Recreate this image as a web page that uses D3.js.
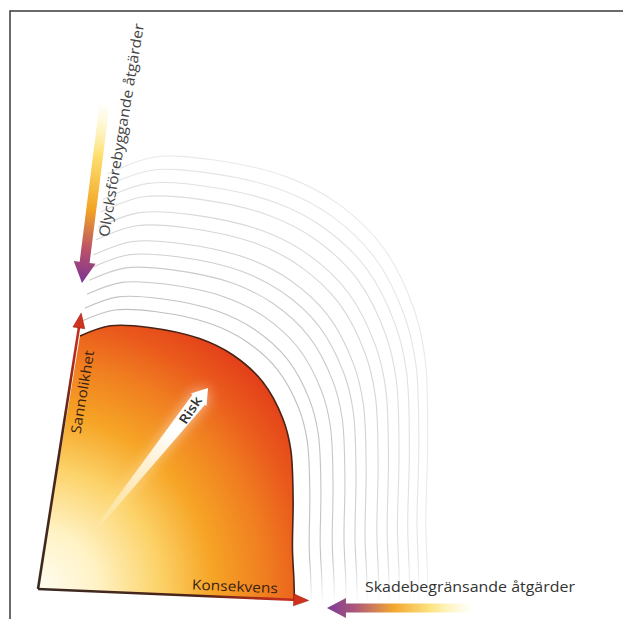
<!DOCTYPE html>
<html>
<head>
<meta charset="utf-8">
<script src="https://cdn.jsdelivr.net/npm/d3@7"></script>
<style>
html, body { margin: 0; padding: 0; background: #fff; }
svg { display: block; }
text { font-family: "Open Sans", "Noto Sans", sans-serif; }
</style>
</head>
<body>
<svg width="623" height="619"></svg>
<script>
// edge of the risk field, axis units (u = konsekvens, v = sannolikhet)
var riskEdge = [[0, 1], [0.11, 1.045], [0.26, 1.045], [0.46, 1.01], [0.6, 0.95], [0.73, 0.85],
	[0.83, 0.71], [0.88, 0.59], [0.92, 0.4], [0.95, 0.2], [0.975, 0.08], [0.99, 0]];

// how far each of the grey rings reaches, relative to the field
var ringU = [1.066, 1.109, 1.156, 1.202, 1.245, 1.284, 1.33, 1.37, 1.41, 1.45, 1.486, 1.52];
var ringV = [1.06, 1.11, 1.165, 1.22, 1.27, 1.32, 1.38, 1.43, 1.49, 1.54, 1.59, 1.64];

var axisLabels = ["Sannolikhet", "Konsekvens"];
var riskLabel = "Risk";
var measureLabels = ["Olycksförebyggande åtgärder", "Skadebegränsande åtgärder"];

var svg = d3.select("svg");
var defs = svg.append("defs");

// skewed axis frame
var x = d3.scaleLinear().domain([0, 1]).range([38, 297]);
var y = d3.scaleLinear().domain([0, 1]).range([589, 336]);
var lean = d3.scaleLinear().domain([0, 1]).range([0, 42]);
var sink = d3.scaleLinear().domain([0, 1]).range([0, 11]);

function P(u, v) { return [x(u) + lean(v), y(v) + sink(u)]; }

var line = d3.line()
	.x(function(d) { return P(d[0], d[1])[0]; })
	.y(function(d) { return P(d[0], d[1])[1]; })
	.curve(d3.curveCatmullRom.alpha(0.5));

function linGrad(id, a, b, stops) {
	var g = defs.append("linearGradient")
		.attr("id", id)
		.attr("gradientUnits", "userSpaceOnUse")
		.attr("x1", a[0]).attr("y1", a[1])
		.attr("x2", b[0]).attr("y2", b[1]);
	stops.forEach(function(s) {
		g.append("stop").attr("offset", s[0]).attr("stop-color", s[1]).attr("stop-opacity", s[2] === undefined ? 1 : s[2]);
	});
}

// polygon for an arrow going from tail to tip
function arrowShape(tail, tip, tailHalf, shaftHalf, headLen, headHalf) {
	var dx = tip[0] - tail[0], dy = tip[1] - tail[1];
	var len = Math.sqrt(dx * dx + dy * dy);
	var ex = dx / len, ey = dy / len;
	var nx = -ey, ny = ex;
	function at(t, w) { return [tail[0] + ex * t + nx * w, tail[1] + ey * t + ny * w]; }
	var b = len - headLen;
	return [at(0, tailHalf), at(b, shaftHalf), at(b, headHalf), tip, at(b, -headHalf), at(b, -shaftHalf), at(0, -tailHalf)];
}

// frame (only top and left edges are in the crop)
svg.append("path")
	.attr("d", "M10,619 L10,11 L623,11")
	.attr("fill", "none")
	.attr("stroke", "#3a3a3a")
	.attr("stroke-width", 1.5);

// grey rings round the field
var O = P(0, 0);
linGrad("ringFade", [0, 560], [0, 604], [[0, "#b4b4b4", 1], [1, "#b4b4b4", 0]]);

svg.append("g").selectAll("path")
	.data(ringU)
	.enter().append("path")
	.attr("d", function(su, i) {
		var sv = ringV[i];
		return line(riskEdge.map(function(p) { return [p[0] * su, p[1] * sv]; }));
	})
	.attr("fill", "none")
	.attr("stroke", "url(#ringFade)")
	.attr("stroke-width", 1.1)
	.attr("opacity", function(d, i) { return 0.85 - i * 0.05; });

// risk field
var field = defs.append("radialGradient")
	.attr("id", "fieldFill")
	.attr("gradientUnits", "userSpaceOnUse")
	.attr("cx", O[0]).attr("cy", O[1]).attr("r", 335);
[[0, "#fffdf2"], [0.18, "#fff2c4"], [0.36, "#fcd36a"], [0.52, "#f6a526"], [0.68, "#f07e20"], [0.8, "#ea5a1c"], [0.9, "#e4421a"], [1, "#de361a"]]
	.forEach(function(s) { field.append("stop").attr("offset", s[0]).attr("stop-color", s[1]); });

svg.append("path")
	.attr("d", line(riskEdge) + "L" + O[0] + "," + O[1] + "Z")
	.attr("fill", "url(#fieldFill)");

svg.append("path")
	.attr("d", line(riskEdge))
	.attr("fill", "none")
	.attr("stroke", "#4a2216")
	.attr("stroke-width", 1.6);

// axes with arrow heads
var axisTips = [P(-0.01, 1.09), P(1.045, 0)];
axisTips.forEach(function(tip, i) {
	linGrad("axisGrad" + i, O, tip, [[0, "#3a2a22"], [0.6, "#4e2318"], [0.82, "#b02a1c"], [1, "#d0321e"]]);
	var head = arrowShape(O, tip, 0, 0, 15, 6);
	svg.append("line")
		.attr("x1", O[0]).attr("y1", O[1])
		.attr("x2", head[1][0] + (tip[0] - head[1][0]) * 0.3)
		.attr("y2", head[1][1] + (tip[1] - head[1][1]) * 0.3)
		.attr("stroke", "url(#axisGrad" + i + ")")
		.attr("stroke-width", 2.6);
	svg.append("polygon")
		.attr("points", [head[2], head[3], head[4]].join(" "))
		.attr("fill", "#d0321e")
		.attr("stroke", "#8a1e12")
		.attr("stroke-width", 0.5);
});

// risk arrow with soft glow
var riskTail = P(0.181, 0.241), riskTip = P(0.524, 0.817);
var riskPoly = arrowShape(riskTail, riskTip, 1.5, 8, 15, 10);
defs.append("filter").attr("id", "glow").attr("x", "-50%").attr("y", "-50%").attr("width", "200%").attr("height", "200%")
	.append("feGaussianBlur").attr("stdDeviation", 7);
linGrad("riskFill", riskTail, riskTip, [[0, "#ffffff", 0], [0.35, "#fffbea", 0.7], [0.7, "#ffffff", 1], [1, "#ffffff", 1]]);

svg.append("polygon")
	.attr("points", riskPoly.join(" "))
	.attr("fill", "url(#riskFill)")
	.attr("opacity", 0.6)
	.attr("filter", "url(#glow)");
svg.append("polygon")
	.attr("points", riskPoly.join(" "))
	.attr("fill", "url(#riskFill)");

// measure arrows
var olyTail = P(-0.054, 1.93), olyTip = P(-0.026, 1.208);
linGrad("olyFill", olyTail, olyTip, [[0, "#fff6c0", 0], [0.3, "#fde070", 1], [0.6, "#f2a424", 1], [0.82, "#b8506a", 1], [1, "#7a3494", 1]]);
svg.append("polygon")
	.attr("points", arrowShape(olyTail, olyTip, 5, 5, 21, 11).join(" "))
	.attr("fill", "url(#olyFill)");

var skTail = P(1.688, -0.002), skTip = P(1.12, -0.026);
linGrad("skFill", skTail, skTip, [[0, "#fff6c0", 0], [0.3, "#fde480", 1], [0.55, "#f2a830", 1], [0.8, "#b05a78", 1], [1, "#7a3a98", 1]]);
svg.append("polygon")
	.attr("points", arrowShape(skTail, skTip, 4.5, 4.5, 19, 10).join(" "))
	.attr("fill", "url(#skFill)");

// labels
function label(txt, pos, angle, size, width, color, weight) {
	svg.append("text")
		.attr("transform", "translate(" + pos[0] + "," + pos[1] + ") rotate(" + angle + ")")
		.attr("text-anchor", "middle")
		.attr("dominant-baseline", "central")
		.attr("font-size", size)
		.attr("font-weight", weight || 400)
		.attr("fill", color)
		.attr("textLength", width)
		.attr("lengthAdjust", "spacingAndGlyphs")
		.text(txt);
}

var vAngle = Math.atan2(y(1) - y(0), lean(1) - lean(0)) * 180 / Math.PI;
var uAngle = Math.atan2(sink(1) - sink(0), x(1) - x(0)) * 180 / Math.PI;

label(axisLabels[0], P(0.043, 0.781), vAngle, 14, 84, "#3a2214");
label(axisLabels[1], P(0.753, 0.045), uAngle, 14, 86, "#3a2214");
label(riskLabel, P(0.469, 0.728), -56, 13, 30, "#333", 600);
label(measureLabels[0], P(0.026, 1.815), vAngle, 14.5, 216, "#444");
label(measureLabels[1], P(1.654, 0.084), 0, 15, 210, "#333");
</script>
</body>
</html>
